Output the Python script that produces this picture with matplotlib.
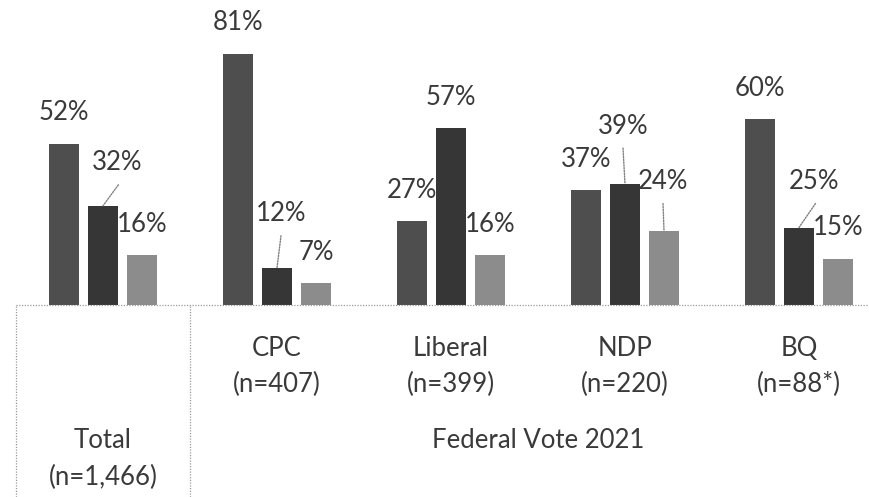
import matplotlib
matplotlib.use("Agg")
import matplotlib.pyplot as plt
from matplotlib import transforms

# ---- data ----
groups = ["Total", "CPC", "Liberal", "NDP", "BQ"]
group_n = ["(n=1,466)", "(n=407)", "(n=399)", "(n=220)", "(n=88*)"]
super_label = "Federal Vote 2021"
series1 = [52, 81, 27, 37, 60]
series2 = [32, 12, 57, 39, 25]
series3 = [16, 7, 16, 24, 15]

# ---- style / layout ----
plt.rcParams['font.family'] = ['Lato', 'DejaVu Sans']
W, H = 869, 497
DPI = 100
fig = plt.figure(figsize=(W / DPI, H / DPI), dpi=DPI)
base_px = 305          # baseline y (pixels from top)
left_px = 16
unit_px = 174          # pixels per category
pct_px = 3.1           # pixels per percent
ax = fig.add_axes([left_px / W, (H - base_px) / H, 1 - left_px / W, base_px / H])
ax.set_xlim(-0.5, (W - 103) / unit_px)
ax.set_ylim(0, base_px / pct_px)
ax.axis('off')

colors = ['#4e4e4e', '#363636', '#8c8c8c']
bw = 30 / unit_px
off = 39 / unit_px
txt_color = '#3a3a3a'
fs = 18.5

all_series = [series1, series2, series3]
xs = list(range(len(groups)))
for si, (vals, col) in enumerate(zip(all_series, colors)):
    ax.bar([x + (si - 1) * off for x in xs], vals, width=bw, color=col, linewidth=0)

# label offsets in pixels (dx, dy up) relative to bar top centre
default_off = (0, 31)
special = {
    (0, 1): (14, 43),
    (1, 1): (4, 54),
    (3, 1): (-2, 58),
    (3, 2): (-1, 49),
    (4, 1): (15, 46),
}
px2pt = 72 / DPI
for si, vals in enumerate(all_series):
    for gi, v in enumerate(vals):
        x = gi + (si - 1) * off
        dx, dy = special.get((gi, si), default_off)
        ax.annotate(f"{v}%", xy=(x, v), xytext=(dx * px2pt, dy * px2pt),
                    textcoords='offset points', ha='center', va='center',
                    fontsize=fs, color=txt_color, annotation_clip=False)
        if (gi, si) in special:
            ldx = dx * 1.1 if abs(dx) > 5 else dx
            ax.annotate('', xy=(x, v), xytext=(ldx * px2pt, (dy - 22) * px2pt),
                        textcoords='offset points', annotation_clip=False,
                        arrowprops=dict(arrowstyle='-', linestyle=(0, (1, 1)),
                                        color='#808080', lw=1.0,
                                        shrinkA=0, shrinkB=0))

# category axis (multi-level, dotted)
trans = transforms.blended_transform_factory(ax.transData, fig.transFigure)
ybase = (H - base_px) / H
dot = dict(color='#9a9a9a', lw=0.9, linestyle=(0, (1, 1.2)), clip_on=False)
ax.plot([-0.5, (W - 103) / unit_px], [ybase, ybase], transform=trans, **dot)
ax.plot([-0.5, -0.5], [0, ybase], transform=trans, **dot)
ax.plot([0.5, 0.5], [0, ybase], transform=trans, **dot)

def fy(px):
    return 1 - px / H

for gi, (g, n) in enumerate(zip(groups, group_n)):
    if gi == 0:
        y1, y2 = 440, 477
    else:
        y1, y2 = 348, 384
    ax.text(gi, fy(y1), g, transform=trans, ha='center', va='center',
            fontsize=fs, color=txt_color)
    ax.text(gi, fy(y2), n, transform=trans, ha='center', va='center',
            fontsize=fs, color=txt_color)

ax.text((1 + len(groups) - 1) / 2, fy(440), super_label, transform=trans,
        ha='center', va='center', fontsize=fs, color=txt_color)

fig.savefig("out.png", dpi=DPI, facecolor='white')
